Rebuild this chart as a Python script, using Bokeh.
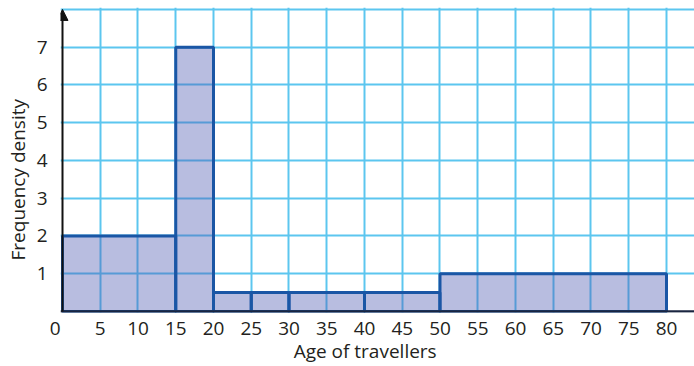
from bokeh.plotting import figure
from bokeh.models import FixedTicker, Range1d, Span, Arrow, NormalHead
from bokeh.embed import file_html
from bokeh.resources import INLINE

# ---- data ----
bin_left = [0, 15, 20, 25, 30, 40, 50]
bin_right = [15, 20, 25, 30, 40, 50, 80]
density = [2, 7, 0.5, 0.5, 0.5, 0.5, 1]

x_tick_labels = [5, 10, 15, 20, 25, 30, 35, 40, 45, 50, 55, 60, 65, 70, 75, 80]
y_tick_labels = [1, 2, 3, 4, 5, 6, 7]
y_grid = [1, 2, 3, 4, 5, 6, 7, 8]
y_top = 8
origin_label = "0"

x_title = "Age of travellers"
y_title = "Frequency density"

FONT = "Open Sans"
TXT = "#231f20"
NB = "\u00a0"

p = figure(width=694, height=366,
           x_range=Range1d(-0.265, 83.71), y_range=Range1d(-0.0265, 8.051),
           output_backend="svg", toolbar_location=None,
           min_border_left=60, min_border_right=0, min_border_top=7,
           min_border_bottom=54)
p.outline_line_color = None

# grid
p.xgrid.ticker = FixedTicker(ticks=x_tick_labels)
p.ygrid.ticker = FixedTicker(ticks=y_grid)
for g in (p.xgrid, p.ygrid):
    g.grid_line_color = "#5cc6ef"
    g.grid_line_width = 2
    g.grid_line_alpha = 1.0

# bars
p.quad(left=bin_left, right=bin_right, top=density, bottom=0,
       fill_color="#4e5ab2", fill_alpha=0.4,
       line_color="#1a56a5", line_width=3)

# axes (labels only)
for ax in (p.xaxis, p.yaxis):
    ax.axis_line_color = None
    ax.major_tick_line_color = None
    ax.minor_tick_line_color = None
    ax.major_label_text_font = FONT
    ax.major_label_text_font_size = "19px"
    ax.major_label_text_color = TXT
    ax.axis_label_text_font = FONT
    ax.axis_label_text_font_size = "19px"
    ax.axis_label_text_font_style = "normal"
    ax.axis_label_text_color = TXT

p.xaxis.ticker = FixedTicker(ticks=[0] + x_tick_labels)
p.xaxis.major_label_overrides = {0: origin_label + NB * 3}
p.yaxis.ticker = FixedTicker(ticks=y_tick_labels)
p.xaxis.major_label_standoff = -4
p.yaxis.major_label_standoff = 7
p.xaxis.axis_label = x_title + NB * 5
p.xaxis.axis_label_standoff = -6
p.yaxis.axis_label = y_title + NB * 8
p.yaxis.axis_label_standoff = 3

# x axis line
p.add_layout(Span(location=0, dimension="width", line_color="#1a2540", line_width=2.5))

# y axis with arrow
p.add_layout(Arrow(end=NormalHead(size=11, fill_color="#111111", line_color="#111111", line_width=1),
                   x_start=0, y_start=0, x_end=0, y_end=y_top,
                   line_color="#111111", line_width=2))

open("out.html", "w").write(file_html(p, INLINE))
